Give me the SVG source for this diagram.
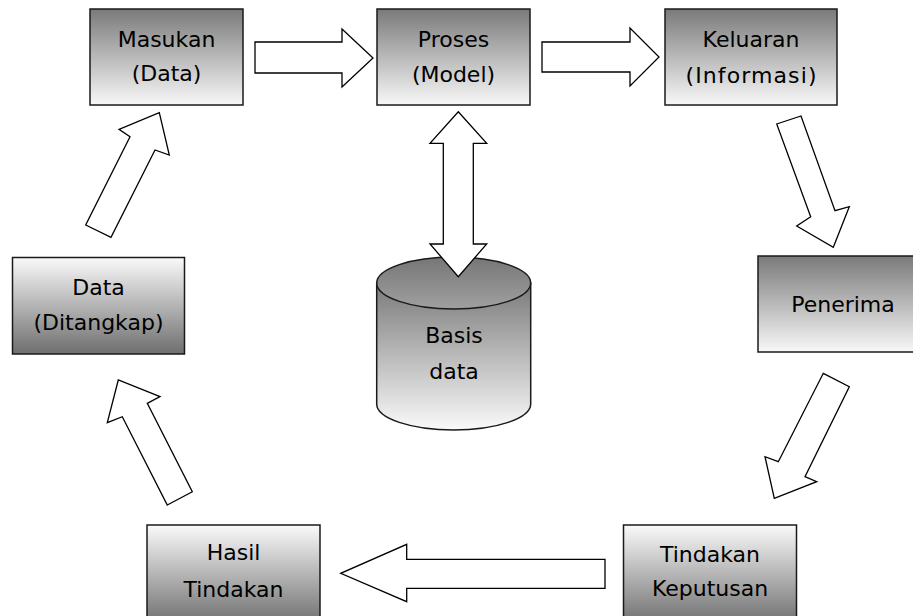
<svg xmlns="http://www.w3.org/2000/svg" width="913" height="616" viewBox="0 0 913 616">
<defs>
<linearGradient id="gDown" x1="0" y1="0" x2="0" y2="1">
<stop offset="0" stop-color="#7a7a7a"/>
<stop offset="1" stop-color="#f8f8f8"/>
</linearGradient>
<linearGradient id="gUp" x1="0" y1="0" x2="0" y2="1">
<stop offset="0" stop-color="#fafafa"/>
<stop offset="1" stop-color="#6e6e6e"/>
</linearGradient>
<linearGradient id="gCyl" x1="0" y1="0" x2="0" y2="1">
<stop offset="0" stop-color="#7a7a7a"/>
<stop offset="1" stop-color="#fafafa"/>
</linearGradient>
<linearGradient id="gTop" x1="0" y1="0" x2="0" y2="1">
<stop offset="0" stop-color="#767676"/>
<stop offset="1" stop-color="#a0a0a0"/>
</linearGradient>
</defs>
<style>
.box{stroke:#1a1a1a;stroke-width:1.5}
.t{font-family:"DejaVu Sans","Liberation Sans",sans-serif;font-size:22px;fill:#000;text-anchor:middle}
.arr{fill:#fff;stroke:#000;stroke-width:1.3;stroke-linejoin:miter}
</style>
<rect width="913" height="616" fill="#fff"/>
<g id="masukan">
<rect class="box" x="90" y="9" width="153" height="96" fill="url(#gDown)"/>
<text class="t" x="166.5" y="47">Masukan</text>
<text class="t" x="166.5" y="81">(Data)</text>
</g>
<g id="proses">
<rect class="box" x="377" y="9" width="153" height="96" fill="url(#gDown)"/>
<text class="t" x="453.5" y="47">Proses</text>
<text class="t" x="453.5" y="82">(Model)</text>
</g>
<g id="keluaran">
<rect class="box" x="665" y="9" width="172" height="96" fill="url(#gDown)"/>
<text class="t" x="751" y="47">Keluaran</text>
<text class="t" x="751" y="83" textLength="131" lengthAdjust="spacing">(Informasi)</text>
</g>
<g id="penerima">
<rect class="box" x="758" y="256" width="170" height="96" fill="url(#gDown)"/>
<text class="t" x="843" y="312">Penerima</text>
</g>
<g id="tindakan-keputusan">
<rect class="box" x="623.5" y="525" width="173" height="100" fill="url(#gUp)"/>
<text class="t" x="710" y="562">Tindakan</text>
<text class="t" x="710" y="596">Keputusan</text>
</g>
<g id="hasil-tindakan">
<rect class="box" x="147" y="525" width="173" height="100" fill="url(#gUp)"/>
<text class="t" x="233.5" y="560">Hasil</text>
<text class="t" x="233.5" y="597">Tindakan</text>
</g>
<g id="data-ditangkap">
<rect class="box" x="12.5" y="257.5" width="172" height="96.5" fill="url(#gUp)"/>
<text class="t" x="98.5" y="295">Data</text>
<text class="t" x="98.5" y="330">(Ditangkap)</text>
</g>
<g id="basis-data">
<path class="box" d="M376.7,283 L376.7,404 A77,26 0 0 0 530.7,404 L530.7,283 Z" fill="url(#gCyl)"/>
<ellipse class="box" cx="453.7" cy="283" rx="77" ry="26" fill="url(#gTop)"/>
<text class="t" x="454" y="343">Basis</text>
<text class="t" x="454" y="379">data</text>
</g>
<g id="connectors">
<polygon class="arr" points="255,42 342,42 342,29 373,58 342,87 342,73 255,73"/>
<polygon class="arr" points="542,42 630,42 630,28 659,57 630,86 630,72 542,72"/>
<polygon class="arr" points="776.7,124 801,116 835,210.7 849.3,206.7 833.3,247.3 796.7,226 810.7,216.7"/>
<polygon class="arr" points="823.3,373.3 849.3,386.7 805,476.7 816.7,481.7 774.3,498.3 765,456.7 778.3,461.7"/>
<polygon class="arr" points="605,559.3 406.7,559.3 406.7,544.3 340.7,573.3 406.7,601.7 406.7,588.3 605,588.3"/>
<polygon class="arr" points="167.3,505 192.3,491.7 147.3,403.3 160,396.7 118.3,380 107.3,422.7 122.3,416.7"/>
<polygon class="arr" points="85.7,225 111,237.3 155,150 169.3,155 159.3,112.7 119,129.3 130,136.7"/>
<polygon class="arr" points="458.3,111.7 486.7,143.3 473.3,143.3 473.3,244 486.7,244 458.3,276.7 430,244 443.3,244 443.3,143.3 430,143.3"/>
</g>
</svg>
